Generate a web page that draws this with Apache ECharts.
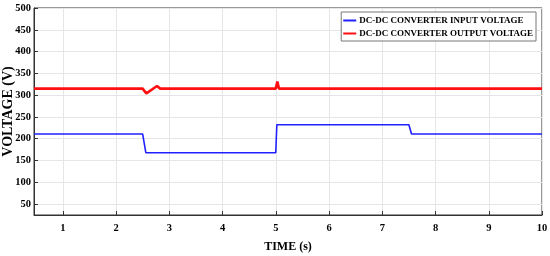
<!DOCTYPE html>
<html><head><meta charset="utf-8">
<script src="https://cdn.jsdelivr.net/npm/echarts@6/dist/echarts.min.js"></script>
<style>html,body{margin:0;padding:0;background:#fff}#c{width:550px;height:256px}</style>
</head><body><div id="c"></div>
<script>
var inputName = 'DC-DC CONVERTER INPUT VOLTAGE';
var outputName = 'DC-DC CONVERTER OUTPUT VOLTAGE';
var inputT = [0.46, 2.5, 2.56, 5.0, 5.02, 7.5, 7.55, 10];
var inputV = [211, 211, 168, 168, 232, 232, 211, 211];
var outputT = [0.46, 2.5, 2.57, 2.77, 2.83, 5.0, 5.03, 5.06, 7.5, 7.52, 7.55, 10];
var outputV = [315, 315, 304, 321, 315, 315, 331, 315, 315, 316, 315, 315];
var xTicks = [1, 2, 3, 4, 5, 6, 7, 8, 9, 10];
var yTicks = [50, 100, 150, 200, 250, 300, 350, 400, 450, 500];
var xMin = 0.46, xMax = 10, yMin = 25, yMax = 500;

function pairs(t, v){ return t.map(function(x,i){ return [x, v[i]]; }); }
var font = '"Liberation Serif", "Times New Roman", serif';
var chart = echarts.init(document.getElementById('c'), null, {renderer:'canvas'});
chart.setOption({
  animation:false,
  grid:{left:34, right:8, top:8, bottom:41, outerBoundsMode:'none', containLabel:false, show:true, borderColor:'#333', borderWidth:1},
  legend:{
    right:14, top:12, orient:'vertical', itemWidth:13, itemHeight:2, itemGap:4,
    padding:[4,3,3,2], borderColor:'#777', borderWidth:1, backgroundColor:'#fff',
    icon:'rect',
    textStyle:{fontFamily:font, fontWeight:'bold', fontSize:9, color:'#000', padding:[0,0,0,-2]},
    data:[inputName, outputName]
  },
  xAxis:{
    type:'value', min:xMin, max:xMax,
    name:'TIME (s)', nameLocation:'middle', nameGap:26, nameMoveOverlap:false,
    nameTextStyle:{fontFamily:font, fontWeight:'bold', fontSize:12, color:'#000'},
    axisLine:{show:true, lineStyle:{color:'#333'}},
    axisTick:{show:true, inside:true, length:4, customValues:xTicks, lineStyle:{color:'#333'}},
    axisLabel:{customValues:xTicks, fontFamily:font, fontWeight:'bold', fontSize:10.5, color:'#000', margin:8},
    splitLine:{show:true, customValues:xTicks, lineStyle:{color:'#e6e6e6'}}
  },
  yAxis:{
    type:'value', min:yMin, max:yMax,
    name:'VOLTAGE (V)', nameLocation:'middle', nameGap:19, nameMoveOverlap:false,
    nameTextStyle:{fontFamily:font, fontWeight:'bold', fontSize:14, color:'#000'},
    axisLine:{show:true, lineStyle:{color:'#333'}},
    axisTick:{show:true, inside:true, length:4, customValues:yTicks, lineStyle:{color:'#333'}},
    axisLabel:{customValues:yTicks, fontFamily:font, fontWeight:'bold', fontSize:10.5, color:'#000', margin:3},
    splitLine:{show:true, customValues:yTicks, lineStyle:{color:'#e6e6e6'}}
  },
  series:[
    {name:inputName, type:'line', data:pairs(inputT, inputV), symbol:'none', color:'#2020ff', lineStyle:{width:1.6, color:'#2020ff'}},
    {name:outputName, type:'line', data:pairs(outputT, outputV), symbol:'none', color:'#ff1010', lineStyle:{width:2.6, color:'#ff1010'}}
  ]
});
</script></body></html>
